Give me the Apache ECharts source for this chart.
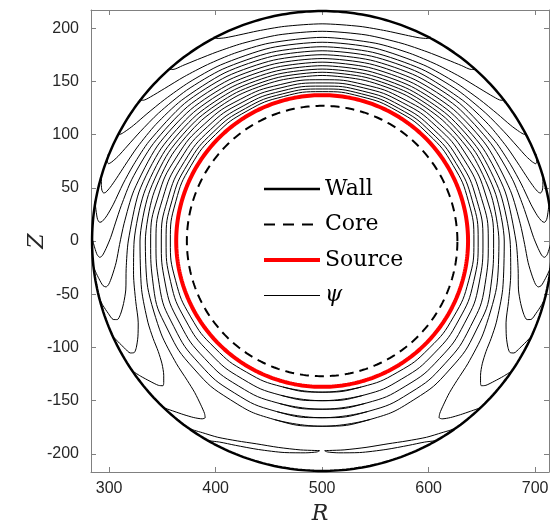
<!DOCTYPE html>
<html>
<head>
<meta charset="utf-8">
<script src="https://cdn.jsdelivr.net/npm/echarts@6/dist/echarts.min.js"></script>
<style>
html, body { margin: 0; padding: 0; background: #fff; }
#main { width: 550px; height: 527px; }
</style>
</head>
<body>
<div id="main"></div>
<script>
// machine centre and circle radii (R, Z units)
var center = [500, 0];
var wallRadius = 216;
var coreRadius = 127;
var sourceRadius = 137;

var xTicks = [300, 400, 500, 600, 700];
var yTicks = [-200, -150, -100, -50, 0, 50, 100, 150, 200];

// psi contours, left half only (the plot is mirror symmetric about R = 500)
// each point: [angle from the top, going down the left side (deg), radius]
// closed surfaces
var psiClosed1 = [[0,140.3],[15,140.5],[30,141],[45,141.5],[60,142],[75,142.3],[90,142.5],[105,142.5],[120,142.5],[135,142.3],[150,142.2],[165,142],[180,142]];
var psiClosed2 = [[0,142.8],[15,143.1],[30,143.8],[45,144.6],[60,145.4],[75,146],[90,146.5],[105,147.3],[120,148.2],[135,149],[150,149.6],[165,150],[180,150]];
var psiClosed3 = [[0,145.5],[15,145.9],[30,146.9],[45,148.1],[60,149.3],[75,150.2],[90,151],[105,152.6],[120,154.4],[135,156],[150,157.2],[165,157.8],[180,158]];
var psiClosed4 = [[0,148.5],[15,149],[30,150.3],[45,152],[60,153.6],[75,154.9],[90,156],[105,158.3],[120,160.8],[135,163],[150,164.8],[165,165.8],[180,166]];
var psiClosed5 = [[0,151.5],[15,152.1],[30,153.7],[45,155.8],[60,157.8],[75,159.6],[90,161],[105,164],[120,167.2],[135,170],[150,172.2],[165,173.6],[180,174]];
// open surfaces: arc over the top, finger tip, leg back out to the wall
var psiOpen1 = [[0,155.5],[15,156.1],[30,157.9],[45,160.2],[60,162.6],[75,164.5],[90,166],[105,169.5],[120,174.5],[130,178.8],[136,182.2],[140,186],[143.5,191.5],[145.7,196],[146.5,199],[146,201.5],[144,205],[141.5,208.5],[139,212],[136.2,216.5]];
var psiOpen2 = [[0,158.5],[15,159.1],[30,161],[45,163.6],[60,166.4],[75,168.8],[90,171],[105,175.5],[115,180.5],[120,183.2],[124,185.6],[127.5,189.5],[130.3,195],[131.8,199.5],[132.3,202],[131.4,205],[129.2,208.5],[126.7,212.5],[124.1,216.5]];
var psiOpen3 = [[0,161.5],[15,162.2],[30,164.2],[45,167.1],[60,170.2],[75,173.2],[90,176.5],[100,179.8],[108,184],[114,189],[117.5,195],[119.8,201],[120.7,205],[120.3,208.5],[118.5,211],[116.3,213.7],[114,216.5]];
var psiOpen4 = [[0,164.7],[15,165.4],[30,167.6],[45,170.8],[60,174.3],[75,178],[90,182],[98,185.8],[104,190],[107.5,195.5],[110,201.5],[111,206],[110.6,209.5],[108.7,212],[106.4,214.5],[104,216.5]];
var psiOpen5 = [[0,168],[15,168.8],[30,171.1],[45,174.6],[60,178.6],[75,183],[85,186.7],[91,190.2],[96,194.5],[99.5,200],[101.5,204.5],[102,207.5],[101.5,210],[99.6,212.5],[97.8,214.6],[96,216.5]];
var psiOpen6 = [[0,171.4],[15,172.3],[30,174.8],[45,178.6],[60,183],[72,187.8],[80,191.5],[85,194.8],[89,198.5],[92,203],[93.8,206.8],[94.2,209.3],[93.5,211.6],[91.8,213.5],[90.3,215],[89,216.5]];
var psiOpen7 = [[0,175],[15,175.9],[30,178.6],[45,182.7],[60,187.5],[68,191],[74,194.5],[80,199],[83.3,203.5],[84.9,207.3],[85.2,209.5],[84.5,211.8],[82.8,213.7],[81.3,215.2],[80,216.5]];
var psiOpen8 = [[0,178.7],[15,179.7],[30,182.5],[45,186.8],[55,190.7],[63,194.6],[69,198.3],[73,201.8],[75.8,205.3],[77.3,208.2],[77.6,210],[77,212.2],[75.6,214],[74.2,215.4],[73,216.5]];
var psiOpen9 = [[0,182.5],[15,183.5],[30,186.5],[42,190.4],[52,195],[59,199.3],[64,203.5],[67.5,207.5],[69.4,211],[70.1,213.3],[69.7,214.9],[68.7,216],[67.8,216.8]];
var psiOpen10 = [[0,186.7],[15,187.8],[30,190.9],[40,194.5],[48,198.8],[54,203.3],[58.5,207.8],[61,211.8],[62.2,214.8],[62.1,216.8]];
var psiOpen11 = [[0,191.3],[15,192.4],[25,194.6],[33,197.6],[40,201.5],[46,206],[50,210.5],[51.8,213.8],[52.3,216.8]];
var psiOpen12 = [[0,197],[12,197.9],[22,200.2],[29,203.2],[34.5,206.8],[38.5,210.5],[41,213.5],[42,216.8]];
var psiOpen13 = [[0,204],[10,204.7],[17,206.4],[22,208.7],[25.5,211.5],[27.4,214.3],[28,216.8]];
// tongue near the lower X-point, both ends on the wall
var psiXTongue = [[144,216.5],[146,214.5],[148,212.3],[152,208.8],[157,204],[162,200.3],[168,198.2],[174,197.3],[178,196.9],[179.3,197],[178.6,198.2],[175.5,199.6],[170,201.8],[163,204.8],[157,208.5],[153,212],[150,216.5]];

var psiClosed = [psiClosed1, psiClosed2, psiClosed3, psiClosed4, psiClosed5];
var psiOpen = [psiOpen1, psiOpen2, psiOpen3, psiOpen4, psiOpen5, psiOpen6, psiOpen7,
  psiOpen8, psiOpen9, psiOpen10, psiOpen11, psiOpen12, psiOpen13];
var psiPieces = [psiXTongue];

function polarToRZ(pts, side) {
  return pts.map(function (p) {
    var a = p[0] * Math.PI / 180;
    return [center[0] + side * p[1] * Math.sin(a), center[1] + p[1] * Math.cos(a)];
  });
}

// right half is the mirror image, walked back up to the top, then the left half
function fullContour(pts) {
  return polarToRZ(pts, 1).reverse().concat(polarToRZ(pts, -1).slice(1));
}

// closed loop: carry the path one sample past the bottom on each end so the join stays smooth
function closedContour(pts) {
  var path = fullContour(pts);
  var n = pts.length;
  var before = polarToRZ([pts[n - 2]], -1)[0];
  var after = polarToRZ([pts[n - 2]], 1)[0];
  return [before].concat(path, [after]);
}

function circle(r) {
  var out = [];
  for (var a = 0; a <= 360; a++) {
    var t = a * Math.PI / 180;
    out.push([center[0] + r * Math.cos(t), center[1] + r * Math.sin(t)]);
  }
  return out;
}

var chart = echarts.init(document.getElementById('main'));

var series = [];
function psiSeries(data, smooth) {
  return {
    name: 'ψ', type: 'line', data: data, smooth: smooth,
    showSymbol: false, symbol: 'none', z: 2, silent: true,
    itemStyle: { color: '#222' },
    lineStyle: { color: '#000', width: 1 }
  };
}
psiClosed.forEach(function (pts) { series.push(psiSeries(closedContour(pts), 0.5)); });
psiOpen.forEach(function (pts) { series.push(psiSeries(fullContour(pts), 0.25)); });
psiPieces.forEach(function (pts) {
  series.push(psiSeries(polarToRZ(pts, -1), 0.25));
  series.push(psiSeries(polarToRZ(pts, 1), 0.25));
});
series.push({
  name: 'Wall', type: 'line', data: circle(wallRadius), showSymbol: false, symbol: 'none', z: 5,
  itemStyle: { color: '#000' },
  lineStyle: { color: '#000', width: 2.5 }
});
series.push({
  name: 'Core', type: 'line', data: circle(coreRadius), showSymbol: false, symbol: 'none', z: 4,
  itemStyle: { color: '#000' },
  lineStyle: { color: '#000', width: 2, type: [9, 6] }
});
series.push({
  name: 'Source', type: 'line', data: circle(sourceRadius), showSymbol: false, symbol: 'none', z: 3,
  itemStyle: { color: '#ff0000' },
  lineStyle: { color: '#ff0000', width: 4 }
});

var axisGray = '#808080';
var tickFont = { color: '#262626', fontSize: 16, fontFamily: 'Liberation Sans, Arial, sans-serif' };

chart.setOption({
  animation: false,
  backgroundColor: '#fff',
  grid: { left: 91, top: 10, width: 458, height: 462, outerBoundsMode: 'none', containLabel: false },
  legend: {
    data: ['Wall', { name: 'Core', lineStyle: { width: 2, type: [11, 8] } }, 'Source', 'ψ'],
    orient: 'vertical', left: 262, top: 178, padding: 0,
    itemWidth: 56, itemHeight: 14, itemGap: 13.5,
    selectedMode: false,
    itemStyle: { opacity: 0 },
    lineStyle: { width: 'inherit' },
    textStyle: {
      fontFamily: 'DejaVu Serif', fontSize: 22, color: '#000', lineHeight: 22,
      rich: { i: { fontFamily: 'DejaVu Serif', fontStyle: 'italic', fontSize: 22, color: '#000' } }
    },
    formatter: function (name) { return name === 'ψ' ? '{i|ψ}' : name; }
  },
  xAxis: [{
    type: 'value', min: 283, max: 713, position: 'bottom',
    name: 'R', nameLocation: 'middle', nameGap: 31, nameMoveOverlap: false,
    nameTextStyle: { fontFamily: 'DejaVu Serif', fontStyle: 'italic', fontSize: 22, color: '#262626' },
    axisLine: { onZero: false, lineStyle: { color: axisGray } },
    axisTick: { inside: true, length: 5, customValues: xTicks, lineStyle: { color: axisGray } },
    axisLabel: Object.assign({ customValues: xTicks, margin: 9 }, tickFont),
    splitLine: { show: false }
  }, {
    type: 'value', min: 283, max: 713, position: 'top',
    axisLine: { onZero: false, lineStyle: { color: axisGray } },
    axisTick: { inside: true, length: 5, customValues: xTicks, lineStyle: { color: axisGray } },
    axisLabel: { show: false },
    splitLine: { show: false }
  }],
  yAxis: [{
    type: 'value', min: -217, max: 217, position: 'left',
    name: 'Z', nameLocation: 'middle', nameGap: 43, nameMoveOverlap: false,
    nameTextStyle: { fontFamily: 'DejaVu Serif', fontStyle: 'italic', fontSize: 22, color: '#262626' },
    axisLine: { onZero: false, lineStyle: { color: axisGray } },
    axisTick: { inside: true, length: 5, customValues: yTicks, lineStyle: { color: axisGray } },
    axisLabel: Object.assign({ customValues: yTicks, margin: 12 }, tickFont),
    splitLine: { show: false }
  }, {
    type: 'value', min: -217, max: 217, position: 'right',
    axisLine: { onZero: false, lineStyle: { color: axisGray } },
    axisTick: { inside: true, length: 5, customValues: yTicks, lineStyle: { color: axisGray } },
    axisLabel: { show: false },
    splitLine: { show: false }
  }],
  series: series
});
</script>
</body>
</html>
